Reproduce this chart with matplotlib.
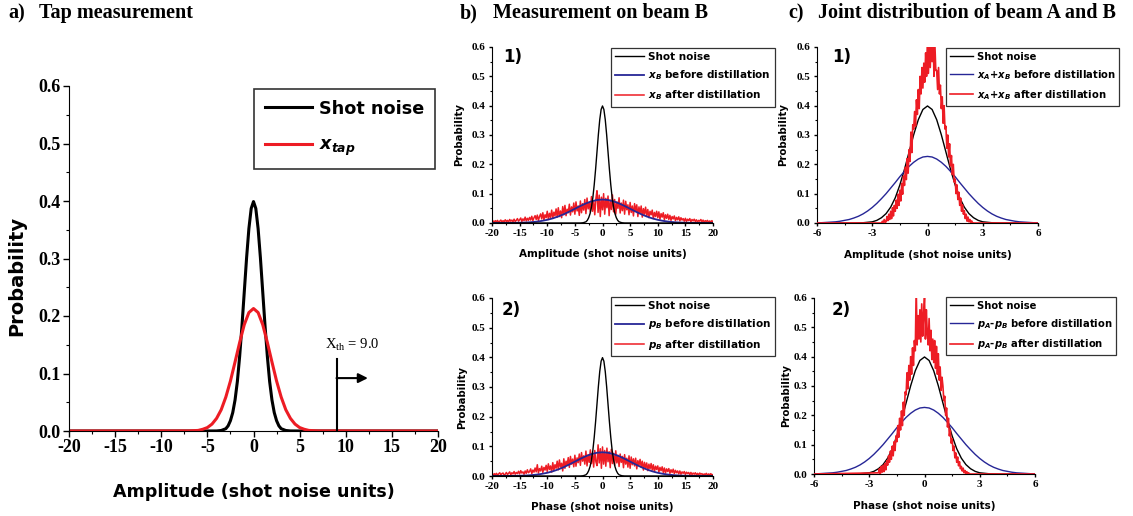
import matplotlib
matplotlib.use('Agg')
import matplotlib.pyplot as plt
import numpy as np
from matplotlib.ticker import MultipleLocator, FormatStrFormatter

plt.rcParams['axes.unicode_minus'] = False
plt.rcParams['mathtext.fontset'] = 'custom'
plt.rcParams['mathtext.it'] = 'DejaVu Sans:italic:bold'
plt.rcParams['mathtext.rm'] = 'DejaVu Sans:bold'
plt.rcParams['mathtext.bf'] = 'DejaVu Sans:bold'

RED = '#ed1c24'
BLUE = '#262696'

# ---- data ----
# shot noise (vacuum) distribution
shot_x = [-6, -4, -3.5, -3, -2.75, -2.5, -2.25, -2, -1.75, -1.5, -1.25, -1, -0.75, -0.5, -0.25,
          0, 0.25, 0.5, 0.75, 1, 1.25, 1.5, 1.75, 2, 2.25, 2.5, 2.75, 3, 3.5, 4, 6]
shot_y = [0, 0.0001, 0.0009, 0.004, 0.009, 0.018, 0.032, 0.054, 0.086, 0.130, 0.183, 0.242, 0.301, 0.352, 0.387,
          0.399, 0.387, 0.352, 0.301, 0.242, 0.183, 0.130, 0.086, 0.054, 0.032, 0.018, 0.009, 0.004, 0.0009, 0.0001, 0]

# a) tap measurement
tap_x = [-20, -7, -6, -5.5, -5, -4.5, -4, -3.5, -3, -2.5, -2, -1.5, -1, -0.5,
         0, 0.5, 1, 1.5, 2, 2.5, 3, 3.5, 4, 4.5, 5, 5.5, 6, 7, 20]
tap_y = [0, 0.0002, 0.001, 0.003, 0.006, 0.012, 0.022, 0.037, 0.059, 0.087, 0.120, 0.154, 0.185, 0.206,
         0.213, 0.206, 0.185, 0.154, 0.120, 0.087, 0.059, 0.037, 0.022, 0.012, 0.006, 0.003, 0.001, 0.0002, 0]
x_threshold = 9.0

# b) beam B before distillation (x = -20..20, step 1)
blue_b_x = list(range(-20, 21))
blue_b_y = [0.0000, 0.0001, 0.0001, 0.0002, 0.0005, 0.0009, 0.0016, 0.0027, 0.0045, 0.0071,
            0.0108, 0.0158, 0.0222, 0.0300, 0.0389, 0.0485, 0.0581, 0.0668, 0.0738, 0.0784,
            0.0800,
            0.0784, 0.0738, 0.0668, 0.0581, 0.0485, 0.0389, 0.0300, 0.0222, 0.0158, 0.0108,
            0.0071, 0.0045, 0.0027, 0.0016, 0.0009, 0.0005, 0.0002, 0.0001, 0.0001, 0.0000]

# b) beam B after distillation, values in 1/1000, x = -20..20 step 0.2
red_b1_milli = [
    2, 7, 3, 8, 4, 9, 2, 6, 10, 3, 8, 4, 11, 5, 9, 3, 12, 6, 10, 4,
    13, 5, 9, 15, 6, 11, 17, 5, 14, 8, 20, 7, 16, 9, 19, 10, 23, 8, 18, 25,
    12, 27, 9, 22, 31, 14, 35, 11, 28, 18, 40, 12, 33, 19, 44, 16, 37, 24, 48, 20,
    52, 22, 41, 18, 56, 28, 60, 25, 47, 35, 64, 27, 55, 38, 68, 30, 72, 41, 58, 26,
    75, 35, 66, 44, 80, 32, 85, 48, 70, 38, 90, 40, 76, 28, 82, 110, 36, 95, 22, 88,
    45, 100, 30, 84, 52, 92, 25, 78, 46, 96, 38, 80, 30, 72, 50, 86, 34, 68, 42, 78,
    30, 74, 45, 62, 28, 70, 36, 58, 24, 66, 40, 62, 22, 55, 33, 58, 20, 49, 30, 54,
    24, 46, 18, 40, 28, 44, 15, 36, 22, 40, 18, 38, 13, 32, 20, 35, 11, 28, 16, 30,
    12, 26, 9, 22, 14, 24, 8, 19, 11, 21, 7, 18, 10, 15, 6, 16, 5, 13, 8, 15,
    4, 12, 7, 13, 5, 11, 3, 9, 6, 12, 4, 10, 3, 8, 5, 9, 2, 7, 4, 8,
    3]
red_b2_milli = [
    6, 2, 8, 4, 9, 3, 7, 11, 4, 8, 10, 3, 6, 12, 5, 9, 14, 4, 11, 7,
    15, 6, 12, 8, 16, 7, 18, 10, 14, 6, 17, 9, 21, 11, 15, 24, 8, 20, 13, 27,
    14, 38, 10, 25, 17, 33, 12, 29, 20, 36, 15, 41, 22, 34, 13, 45, 19, 38, 26, 50,
    21, 54, 30, 43, 17, 58, 26, 50, 36, 62, 29, 66, 40, 57, 31, 70, 33, 61, 45, 74,
    36, 79, 50, 68, 40, 84, 34, 72, 46, 88, 42, 78, 30, 86, 48, 35, 105, 44, 92, 26,
    98, 40, 86, 33, 94, 48, 82, 28, 90, 42, 76, 36, 85, 44, 70, 32, 74, 46, 66, 28,
    72, 40, 60, 30, 68, 26, 64, 38, 58, 34, 60, 24, 52, 36, 56, 30, 50, 20, 46, 26,
    44, 18, 40, 24, 42, 20, 38, 15, 33, 22, 34, 13, 29, 18, 31, 12, 27, 10, 24, 15,
    25, 9, 21, 12, 23, 8, 19, 11, 17, 7, 17, 6, 14, 9, 15, 5, 13, 8, 12, 4,
    12, 5, 10, 6, 11, 4, 9, 3, 10, 6, 8, 3, 7, 5, 9, 2, 7, 4, 8, 3,
    5]
red_b_x = np.linspace(-20, 20, len(red_b1_milli))

# c) joint distribution before distillation
blue_c_x = [-6, -5.75, -5.5, -5.25, -5, -4.75, -4.5, -4.25, -4, -3.75, -3.5, -3.25, -3, -2.75, -2.5, -2.25,
            -2, -1.75, -1.5, -1.25, -1, -0.75, -0.5, -0.25, 0, 0.25, 0.5, 0.75, 1, 1.25, 1.5, 1.75,
            2, 2.25, 2.5, 2.75, 3, 3.25, 3.5, 3.75, 4, 4.25, 4.5, 4.75, 5, 5.25, 5.5, 5.75, 6]
blue_c_y = [0.001, 0.001, 0.002, 0.003, 0.004, 0.006, 0.009, 0.012, 0.017, 0.023, 0.031, 0.041, 0.053, 0.067,
            0.083, 0.100, 0.119, 0.138, 0.158, 0.176, 0.193, 0.207, 0.218, 0.225, 0.227, 0.225, 0.218,
            0.207, 0.193, 0.176, 0.158, 0.138, 0.119, 0.100, 0.083, 0.067, 0.053, 0.041, 0.031, 0.023,
            0.017, 0.012, 0.009, 0.006, 0.004, 0.003, 0.002, 0.001, 0.001]

# c) joint distribution after distillation, values in 1/1000, x = -2.5..2.5 step 0.05
red_c1_milli = [
    0, 6, 0, 12, 2, 4, 22, 8, 30, 12, 40, 15, 52, 24, 60, 40, 78, 50, 98, 60,
    112, 75, 135, 98, 160, 128, 190, 148, 220, 170, 250, 210, 310, 240, 335,
    320, 380, 330, 420, 370, 455, 390, 500, 440, 530, 460, 545, 480, 580, 500,
    640, 510, 620, 530, 640, 550, 650, 500, 610, 520, 520, 455, 530, 440, 470,
    390, 430, 340, 400, 320, 330, 255, 300, 225, 270, 195, 230, 165, 200, 140,
    150, 100, 130, 80, 105, 60, 85, 40, 62, 30, 42, 15, 30, 6, 20, 4, 12, 0, 7, 0,
    0]
red_c2_milli = [
    4, 18, 0, 26, 6, 30, 8, 36, 14, 45, 30, 62, 40, 78, 50, 95, 62, 110, 80, 130,
    110, 165, 125, 190, 150, 215, 165, 245, 200, 280, 270, 345, 290, 370, 320,
    400, 340, 430, 370, 455, 420, 640, 440, 540, 460, 560, 450, 580, 470, 545,
    600, 460, 560, 480, 440, 530, 420, 490, 390, 460, 380, 455, 360, 435, 340,
    410, 320, 365, 285, 330, 300, 250, 265, 200, 225, 160, 190, 130, 150, 105,
    120, 80, 95, 55, 72, 40, 58, 28, 42, 18, 26, 10, 20, 4, 12, 0, 8, 0, 4, 0,
    0]
red_c_x = np.linspace(-2.5, 2.5, len(red_c1_milli))
c_edges = [-6, 6]

W, H = 1133, 516


def px_axes(left, top, right, bottom):
    """Axes rectangle from pixel corners of the reference picture."""
    return [left / W, 1 - bottom / H, (right - left) / W, (bottom - top) / H]


def style(ax, xmaj, ymaj, size, length):
    for s in ('top', 'right'):
        ax.spines[s].set_visible(False)
    ax.xaxis.set_major_locator(MultipleLocator(xmaj))
    ax.xaxis.set_minor_locator(MultipleLocator(xmaj / 2))
    ax.yaxis.set_major_locator(MultipleLocator(ymaj))
    ax.yaxis.set_minor_locator(MultipleLocator(ymaj / 2))
    ax.yaxis.set_major_formatter(FormatStrFormatter('%.1f'))
    ax.tick_params(which='major', direction='out', length=length, width=1, pad=2)
    ax.tick_params(which='minor', direction='out', length=length * 0.6, width=0.8)
    for lab in ax.get_xticklabels() + ax.get_yticklabels():
        lab.set_fontfamily('Liberation Serif')
        lab.set_fontweight('bold')
        lab.set_fontsize(size)


def add_legend(ax, left, top, size, spacing, hl, pad=0.4, lw_frame=0.9):
    leg = ax.legend(loc='upper left', bbox_to_anchor=(left / W, 1 - top / H),
                    bbox_transform=fig.transFigure, borderaxespad=0, fancybox=False,
                    framealpha=1, edgecolor='#333333', handlelength=hl, handletextpad=0.4,
                    labelspacing=spacing, borderpad=pad,
                    prop={'family': 'DejaVu Sans', 'weight': 'bold', 'size': size})
    leg.get_frame().set_linewidth(lw_frame)
    return leg


fig = plt.figure(figsize=(11.33, 5.16), dpi=100)
title_kw = dict(fontfamily='Liberation Serif', fontweight='bold', fontsize=14.5, va='center')
fig.text(8 / W, 1 - 13 / H, 'a)', **title_kw)
fig.text(39 / W, 1 - 13 / H, 'Tap measurement', **title_kw)
fig.text(460 / W, 1 - 13 / H, 'b)', **title_kw)
fig.text(493 / W, 1 - 13 / H, 'Measurement on beam B', **title_kw)
fig.text(788 / W, 1 - 13 / H, 'c)', **title_kw)
fig.text(818 / W, 1 - 13 / H, 'Joint distribution of beam A and B', **title_kw)

lab_kw = dict(fontfamily='DejaVu Sans', fontweight='bold')

# ---- a) tap measurement ----
ax = fig.add_axes(px_axes(69, 86, 438, 431))
ax.plot([-20] + shot_x + [20], [0] + shot_y + [0], color='black', lw=2.2, label='Shot noise')
ax.plot(tap_x, tap_y, color=RED, lw=2.2, label='$x_{tap}$')
ax.set_xlim(-20, 20)
ax.set_ylim(0, 0.6)
style(ax, 5, 0.1, 13, 4)
ax.set_xlabel('Amplitude (shot noise units)', fontsize=12.6, **lab_kw)
ax.set_ylabel('Probability', fontsize=14, **lab_kw)
ax.xaxis.set_label_coords(0.5, -0.15)
ax.yaxis.set_label_coords(-0.117, 0.45)
ax.plot([x_threshold, x_threshold], [0, 0.125], color='black', lw=1.5)
ax.annotate('', xy=(x_threshold + 3.4, 0.092), xytext=(x_threshold, 0.092),
            arrowprops=dict(arrowstyle='-|>', color='black', lw=1.5, mutation_scale=14,
                            shrinkA=0, shrinkB=0))
ax.text(7.7, 0.15, r'X$_{\mathregular{th}}$ = 9.0', fontfamily='Liberation Serif',
        fontsize=10.5, va='center')
add_legend(ax, 254, 89, 12.7, 1.05, 2.7, pad=0.6, lw_frame=1.2)

# ---- b) measurement on beam B ----
panels_b = [
    (px_axes(492, 47, 713, 223), '1)', 'x', red_b1_milli, 'Amplitude (shot noise units)',
     (-0.127, 0.5), -0.148, 47.7, 503, 57),
    (px_axes(492, 298, 713, 476), '2)', 'p', red_b2_milli, 'Phase (shot noise units)',
     (-0.113, 0.44), -0.146, 296.7, 502, 310),
]
for rect, tag, q, red_milli, xlab, ycoords, xlab_y, leg_top, tag_x, tag_y in panels_b:
    ax = fig.add_axes(rect)
    ax.plot([-20] + shot_x + [20], [0] + shot_y + [0], color='black', lw=1.0, zorder=4,
            label='Shot noise')
    ax.plot(blue_b_x, blue_b_y, color=BLUE, lw=1.3, zorder=3,
            label='$%s_B$ before distillation' % q)
    ax.plot(red_b_x, np.array(red_milli) / 1000, color=RED, lw=1.1, zorder=2,
            label='$%s_B$ after distillation' % q)
    ax.set_xlim(-20, 20)
    ax.set_ylim(0, 0.6)
    style(ax, 5, 0.1, 8, 2.5)
    ax.set_xlabel(xlab, fontsize=7.5, **lab_kw)
    ax.set_ylabel('Probability', fontsize=7.3, **lab_kw)
    ax.xaxis.set_label_coords(0.5, xlab_y)
    ax.yaxis.set_label_coords(*ycoords)
    fig.text(tag_x / W, 1 - tag_y / H, tag, fontsize=12, va='center', **lab_kw)
    add_legend(ax, 610.7, leg_top, 7.5, 0.62, 2.8)

# ---- c) joint distribution of beam A and B ----
panels_c = [
    (px_axes(817, 47, 1038, 223), '1)', '$x_A$+$x_B$', red_c1_milli, 'Amplitude (shot noise units)',
     (-0.131, 0.5), -0.153, 47.7, 832, 57),
    (px_axes(814, 298, 1035, 474), '2)', '$p_A$-$p_B$', red_c2_milli, 'Phase (shot noise units)',
     (-0.104, 0.444), -0.153, 296.7, 832, 310),
]
for rect, tag, q, red_milli, xlab, ycoords, xlab_y, leg_top, tag_x, tag_y in panels_c:
    ax = fig.add_axes(rect)
    ax.plot(shot_x, shot_y, color='black', lw=1.0, zorder=2, label='Shot noise')
    ax.plot(blue_c_x, blue_c_y, color=BLUE, lw=1.0, zorder=3, label=q + ' before distillation')
    ax.plot([c_edges[0]] + list(red_c_x) + [c_edges[1]], [0] + list(np.array(red_milli) / 1000) + [0],
            color=RED, lw=1.2, zorder=4, label=q + ' after distillation')
    ax.set_xlim(-6, 6)
    ax.set_ylim(0, 0.6)
    style(ax, 3, 0.1, 8, 2.5)
    ax.set_xlabel(xlab, fontsize=7.5, **lab_kw)
    ax.set_ylabel('Probability', fontsize=7.3, **lab_kw)
    ax.xaxis.set_label_coords(0.5, xlab_y)
    ax.yaxis.set_label_coords(*ycoords)
    fig.text(tag_x / W, 1 - tag_y / H, tag, fontsize=12, va='center', **lab_kw)
    add_legend(ax, 945.7, leg_top, 7.2, 0.62, 2.3)

fig.savefig('out.png', dpi=100)
